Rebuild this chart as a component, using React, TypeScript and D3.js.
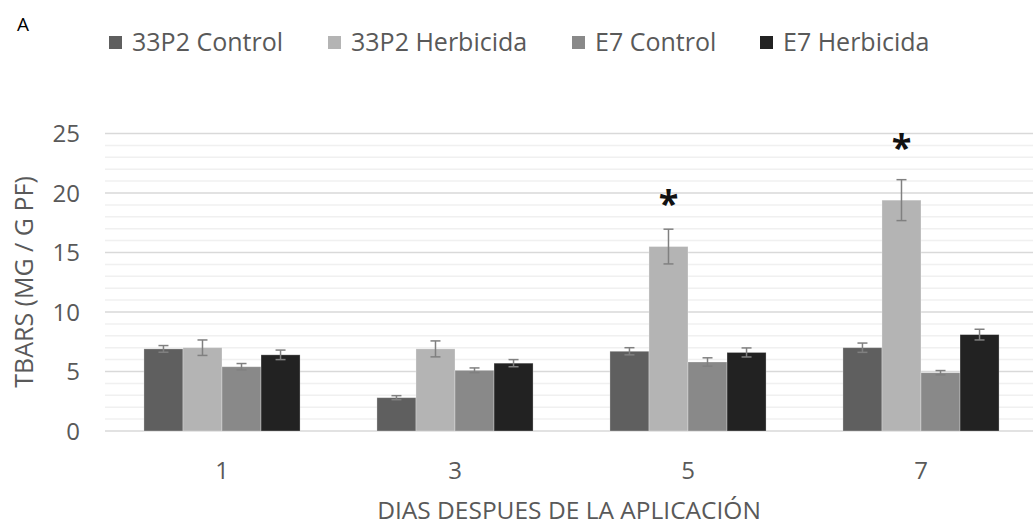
import React from "react";
import * as d3 from "d3";

// Days after application (x categories)
const days = ["1", "3", "5", "7"];
const seriesNames = ["33P2 Control", "33P2 Herbicida", "E7 Control", "E7 Herbicida"];
const seriesColors = ["#5f5f5f", "#b4b4b4", "#898989", "#222222"];

// TBARS means per series, one value per day
const control33P2 = [6.9, 2.8, 6.7, 7.0];
const herbicida33P2 = [7.0, 6.9, 15.5, 19.4];
const controlE7 = [5.4, 5.1, 5.8, 4.9];
const herbicidaE7 = [6.4, 5.7, 6.6, 8.1];

// Error half-widths per series
const err33P2Control = [0.28, 0.17, 0.3, 0.39];
const err33P2Herbicida = [0.65, 0.67, 1.46, 1.72];
const errE7Control = [0.27, 0.2, 0.35, 0.18];
const errE7Herbicida = [0.4, 0.3, 0.38, 0.45];

// Significance marks: day, series index, y position (data units)
const stars = [
  { day: "5", series: 1, y: 19.5 },
  { day: "7", series: 1, y: 24.2 },
];

const yTicks = [0, 5, 10, 15, 20, 25];
const yMinorTicks = d3.range(0, 26, 1);

const values = [control33P2, herbicida33P2, controlE7, herbicidaE7];
const errors = [err33P2Control, err33P2Herbicida, errE7Control, errE7Herbicida];

const W = 1033;
const H = 527;
const FONT = "'Open Sans', 'Liberation Sans', sans-serif";
const TEXT = "#595959";

export default function App() {
  const x = d3
    .scaleBand<string>()
    .domain(days)
    .range([105.5, 1037.5])
    .paddingInner(0.33)
    .paddingOuter(0.165);
  const xs = d3
    .scaleBand<number>()
    .domain(d3.range(seriesNames.length))
    .range([0, x.bandwidth()]);
  const y = d3.scaleLinear().domain([0, 25]).range([431, 133.5]);

  const legendX = [109, 328, 572, 760];

  return (
    <svg
      width={W}
      height={H}
      style={{ position: "absolute", left: 0, top: 0, background: "#fff" }}
      fontFamily={FONT}
    >
      <rect width={W} height={H} fill="#fff" />
      <text x={17} y={31} fontSize={19} fill="#000">A</text>

      {/* legend */}
      {seriesNames.map((name, i) => (
        <g key={name}>
          <rect x={legendX[i]} y={36} width={13} height={13} fill={seriesColors[i]} />
          <text x={legendX[i] + 23} y={51} fontSize={25} fill={TEXT}>
            {name}
          </text>
        </g>
      ))}

      {/* minor gridlines */}
      {yMinorTicks
        .filter((t) => t % 5 !== 0)
        .map((t) => (
          <line key={"m" + t} x1={105} x2={W} y1={y(t)} y2={y(t)} stroke="#f0f0f0" strokeWidth={1.5} />
        ))}
      {/* major gridlines */}
      {yTicks.map((t) => (
        <line key={"M" + t} x1={105} x2={W} y1={y(t)} y2={y(t)} stroke="#d9d9d9" strokeWidth={1.5} />
      ))}

      {/* y tick labels */}
      {yTicks.map((t) => (
        <text key={"yl" + t} x={80} y={y(t)} dy="0.36em" textAnchor="end" fontSize={24} fill={TEXT}>
          {t}
        </text>
      ))}

      {/* bars */}
      {days.map((d, di) => (
        <g key={d} transform={`translate(${x(d)},0)`}>
          {values.map((vals, si) => (
            <rect
              key={si}
              x={xs(si)}
              y={y(vals[di])}
              width={xs.bandwidth()}
              height={y(0) - y(vals[di])}
              fill={seriesColors[si]}
              stroke="#ffffff"
              strokeOpacity={0.35}
              strokeWidth={0.8}
            />
          ))}
          {values.map((vals, si) => {
            const cx = (xs(si) as number) + xs.bandwidth() / 2;
            const hi = y(vals[di] + errors[si][di]);
            const lo = y(vals[di] - errors[si][di]);
            return (
              <g key={"e" + si} stroke="#808080" strokeWidth={1.5}>
                <line x1={cx} x2={cx} y1={hi} y2={lo} />
                <line x1={cx - 5} x2={cx + 5} y1={hi} y2={hi} />
                <line x1={cx - 5} x2={cx + 5} y1={lo} y2={lo} />
              </g>
            );
          })}
        </g>
      ))}

      {/* significance asterisks */}
      {stars.map((s) => (
        <text
          key={s.day}
          x={(x(s.day) as number) + (xs(s.series) as number) + xs.bandwidth() / 2}
          y={y(s.y)}
          dy="0.47em"
          textAnchor="middle"
          fontSize={36}
          fontWeight="bold"
          fill="#111"
        >
          *
        </text>
      ))}

      {/* x tick labels */}
      {days.map((d) => (
        <text
          key={"xl" + d}
          x={(x(d) as number) + x.bandwidth() / 2}
          y={470}
          dy="0.36em"
          textAnchor="middle"
          fontSize={24}
          fill={TEXT}
        >
          {d}
        </text>
      ))}

      {/* axis titles */}
      <text x={569} y={510} dy="0.36em" textAnchor="middle" fontSize={24.5} fill={TEXT}>
        DIAS DESPUES DE LA APLICACIÓN
      </text>
      <text
        transform={`translate(24,282) rotate(-90)`}
        dy="0.36em"
        textAnchor="middle"
        fontSize={25}
        fill={TEXT}
      >
        TBARS (MG / G PF)
      </text>
    </svg>
  );
}
